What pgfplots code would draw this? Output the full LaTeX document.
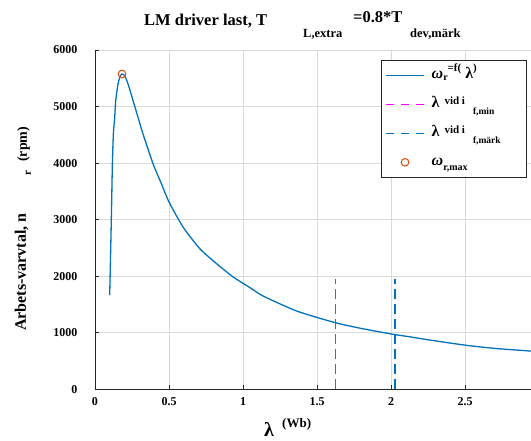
\documentclass[border=0pt]{standalone}
\usepackage{pgfplots}
\pgfplotsset{compat=1.18}
\usepackage{fontspec}
\setmainfont{Liberation Serif}
\definecolor{mblue}{rgb}{0,0.447,0.741}
\definecolor{mmag}{rgb}{1,0,1}
\definecolor{morange}{rgb}{0.85,0.325,0.098}
\newcommand\fs[1]{\fontsize{#1}{#1}\selectfont}
\pgfplotsset{
  legsolid/.style={legend image code/.code={\draw[mblue, line width=1.3pt] (0pt,0pt) -- (38pt,0pt);}},
  legmag/.style={legend image code/.code={\draw[mmag, line width=1.3pt, dash pattern=on 8pt off 7pt] (0pt,0pt) -- (38pt,0pt);}},
  legbdash/.style={legend image code/.code={\draw[mblue, line width=1.3pt, dash pattern=on 8pt off 7pt] (0pt,0pt) -- (38pt,0pt);}},
  legmark/.style={legend image code/.code={\draw[morange, line width=1.1pt] (19pt,0pt) circle[radius=3.8pt];}},
}
\begin{document}
\begin{tikzpicture}[font=\bfseries]
\begin{axis}[
  scale only axis, width=436pt, height=339.3pt,
  xmin=0, xmax=2.944, ymin=0, ymax=6000,
  axis x line*=bottom, axis y line*=left,
  axis line style={black!85, line width=0.8pt},
  tick align=inside, major tick length=4pt,
  tick style={black!85, line width=0.8pt},
  xtick={0,0.5,1,1.5,2,2.5}, ytick={0,1000,2000,3000,4000,5000,6000},
  grid=major, grid style={black!15, line width=0.6pt},
  tick label style={font=\bfseries\fs{12}},
  /pgf/number format/assume math mode=true,
  /pgf/number format/1000 sep={},
  scaled y ticks=false,
  xticklabel style={yshift=-5pt},
  yticklabel style={xshift=-14pt},
  legend style={at={(1,1)}, anchor=north east, xshift=-4pt, yshift=-10pt,
    draw=black!85, line width=0.6pt, fill=white,
    inner xsep=4pt, inner ysep=6pt, row sep=11pt,
    column sep=0pt, nodes={inner sep=0pt, text height=12pt, text depth=6pt}},
  legend cell align=left,
]
\coordinate (O) at (rel axis cs:0,0);
\addplot[mblue, line width=1.3pt, smooth, tension=0.4, legsolid] coordinates {
(0.0993,1664) (0.1106,3046) (0.1174,3988) (0.1241,4517) (0.1331,4810)
(0.1399,5105) (0.1554,5400) (0.1712,5546) (0.1824,5576) (0.2007,5546)
(0.223,5400) (0.257,5105) (0.2905,4810) (0.324,4517) (0.392,3988)
(0.4486,3635) (0.5,3311) (0.5946,2869) (0.7074,2488) (0.8203,2223)
(0.9324,1987) (1.0453,1800) (1.135,1650) (1.361,1385) (1.617,1182)
(1.8,1075) (2.018,970) (2.126,928) (2.25,875) (2.495,782) (2.7,723) (2.944,676)
};
\addlegendentry{\makebox[98pt][l]{\hspace{7pt}\fs{16}\textit{ω}\raisebox{-2pt}{\fs{10}r}\raisebox{7pt}{\fs{11}=f(}\hspace{4pt}{\fs{16}λ}\raisebox{7pt}{\fs{11})}}}
\addplot[mmag, line width=1.4pt, dash pattern=on 10pt off 5pt, legmag] coordinates {(1.625,0) (1.625,1950)};
\addlegendentry{\makebox[98pt][l]{\hspace{7pt}{\fs{16}λ}\hspace{5pt}\raisebox{3pt}{\fs{11}vid i}\hspace{8pt}\raisebox{-7pt}{\fs{9.5}f,min}}}
\addplot[mblue, line width=1.4pt, dash pattern=on 10pt off 5pt, legbdash] coordinates {(2.025,0) (2.025,1950)};
\addlegendentry{\makebox[98pt][l]{\hspace{7pt}{\fs{16}λ}\hspace{5pt}\raisebox{3pt}{\fs{11}vid i}\hspace{8pt}\raisebox{-7pt}{\fs{9.5}f,märk}}}
\addplot[only marks, mark=o, mark size=3.8pt, morange, mark options={line width=1.1pt}, legmark] coordinates {(0.1824,5576)};
\addlegendentry{\makebox[98pt][l]{\hspace{7pt}\fs{16}\textit{ω}\raisebox{-5pt}{\fs{10}r,max}}}
\end{axis}
\coordinate (TL) at ([shift={(-95pt,389.3pt)}]O);
\begin{scope}[shift={(TL)}]
  % title
  \node[anchor=base west, inner sep=0pt] at (144pt,-26pt) {\fs{16.5}LM driver last, T};
  \node[anchor=base west, inner sep=0pt] at (303pt,-38pt) {\fs{12.5}L,extra};
  \node[anchor=base west, inner sep=0pt] at (353pt,-23pt) {\fs{16.5}=0.8*T};
  \node[anchor=base west, inner sep=0pt] at (410pt,-38pt) {\fs{12.5}dev,märk};
  % y label
  \node[anchor=base west, rotate=90, inner sep=0pt] at (26pt,-331pt) {\fs{16}Arbets-varvtal, n};
  \node[anchor=base west, rotate=90, inner sep=0pt] at (31pt,-176pt) {\fs{11}r};
  \node[anchor=base west, rotate=90, inner sep=0pt] at (27pt,-162pt) {\fs{14}(rpm)};
  % x label
  \node[anchor=base west, inner sep=0pt] at (264pt,-437pt) {\fs{20}λ};
  \node[anchor=base west, inner sep=0pt] at (282pt,-428pt) {\fs{13}(Wb)};
\end{scope}
\pgfresetboundingbox
\path (TL) rectangle ++(531pt,-441pt);
\end{tikzpicture}
\end{document}
